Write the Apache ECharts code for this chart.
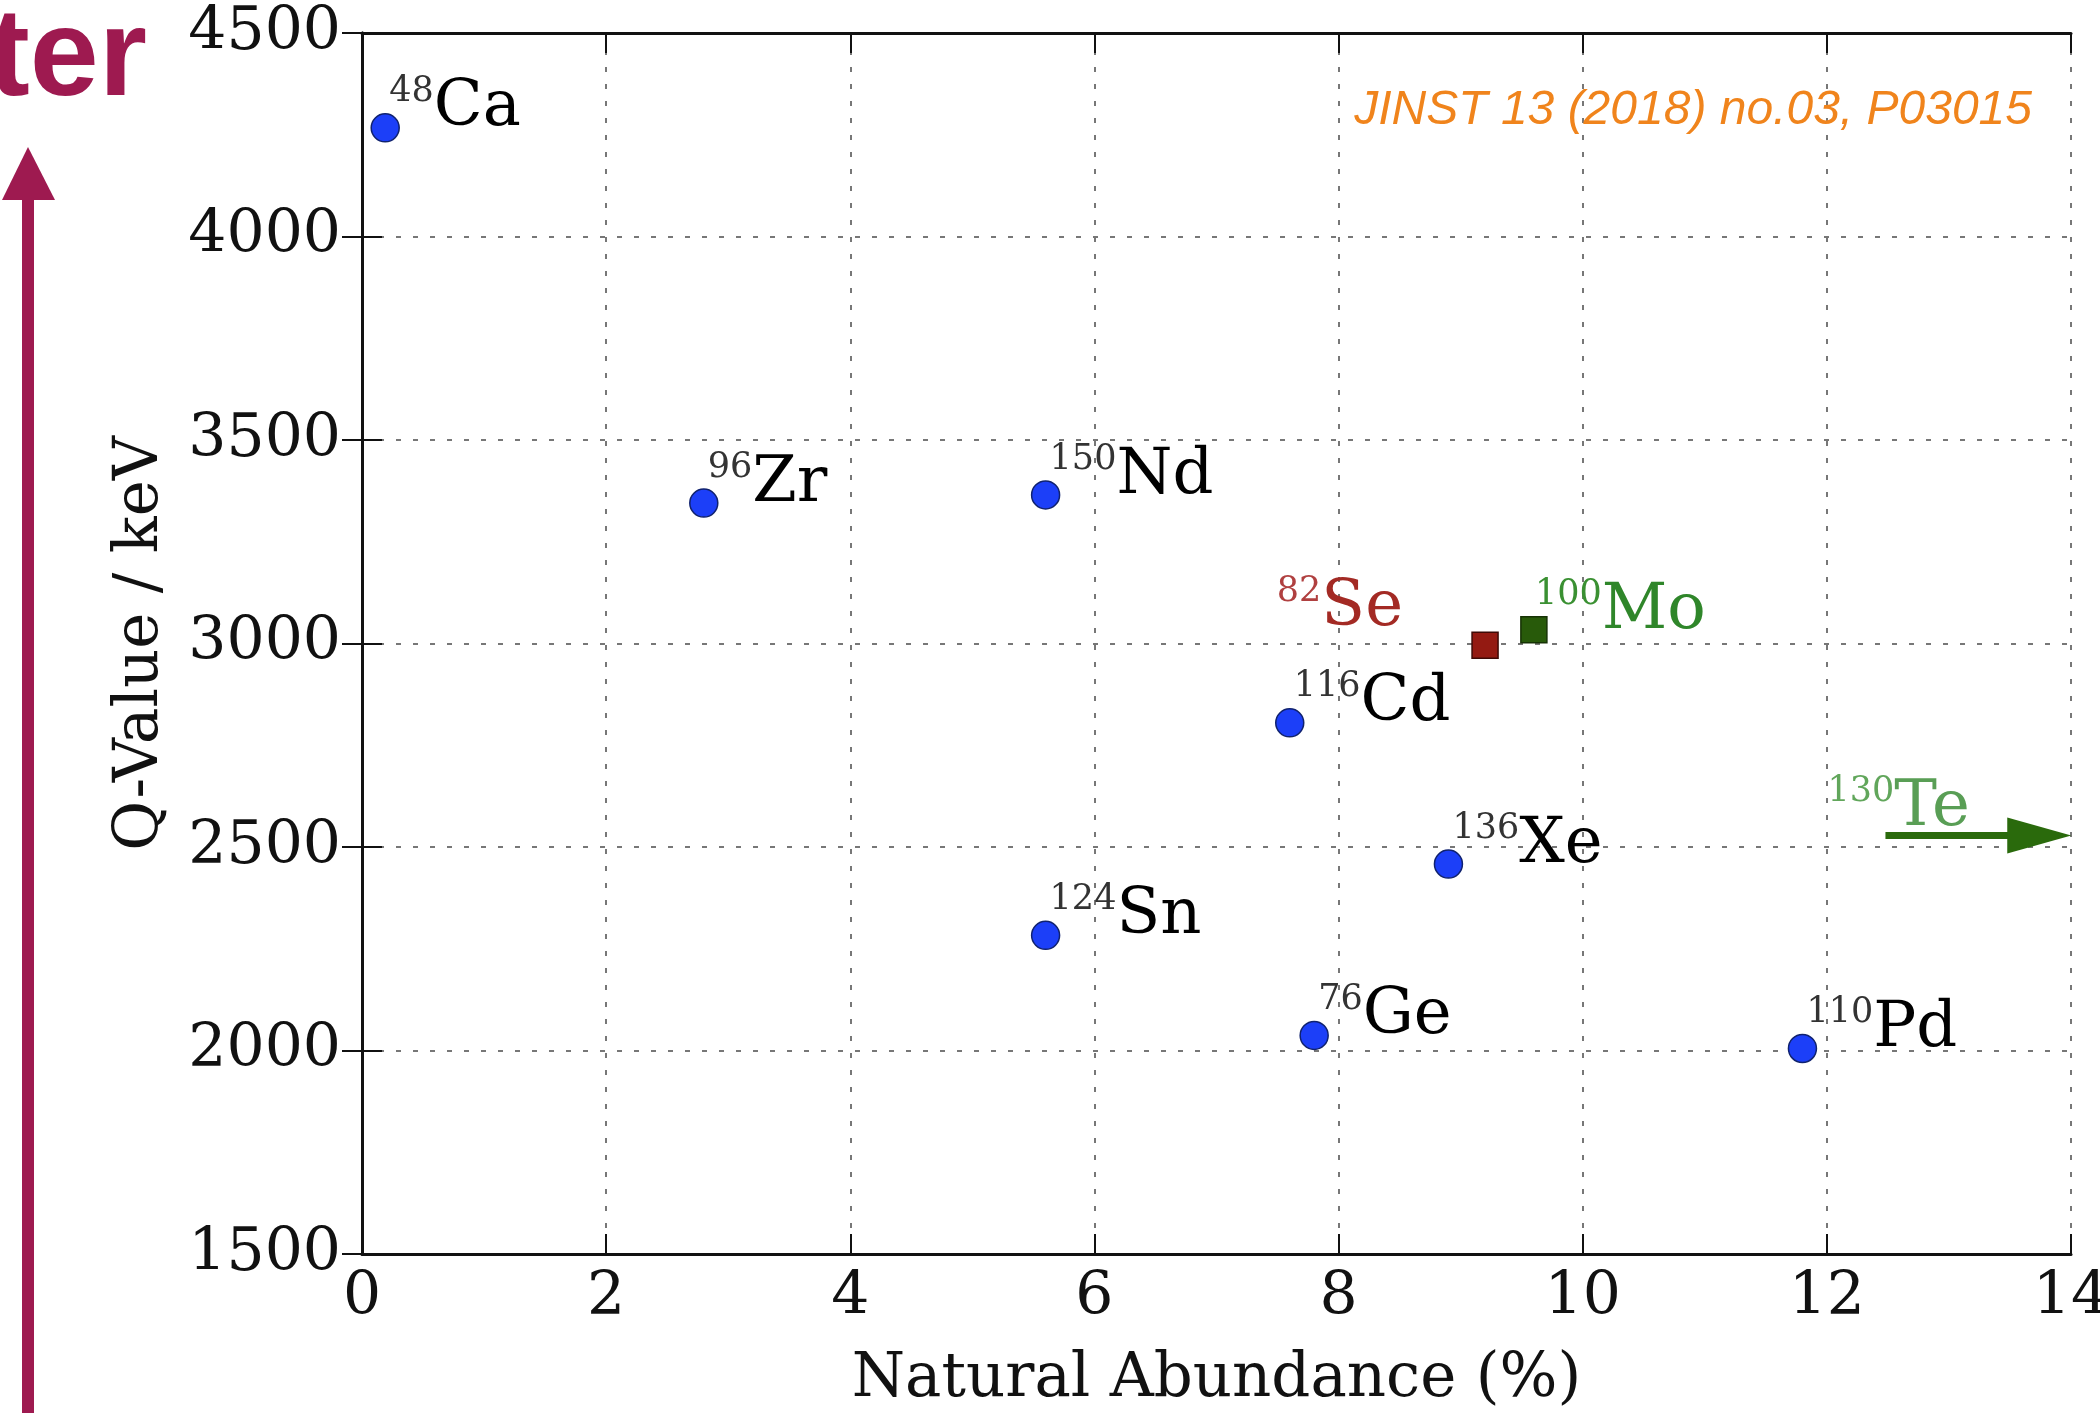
<!DOCTYPE html>
<html>
<head>
<meta charset="utf-8">
<script src="https://cdn.jsdelivr.net/npm/echarts@6/dist/echarts.min.js"></script>
<style>
  html, body { margin: 0; padding: 0; background: #fff; }
  #chart { width: 2100px; height: 1413px; }
</style>
</head>
<body>
<div id="chart"></div>
<script>
// isotopes shown as blue circles
const isoNames = ['Ca', 'Zr', 'Nd', 'Cd', 'Xe', 'Sn', 'Ge', 'Pd']
const isoMass = ['48', '96', '150', '116', '136', '124', '76', '110']
const isoAbundance = [0.19, 2.8, 5.6, 7.6, 8.9, 5.6, 7.8, 11.8]
const isoQValue = [4267, 3345, 3365, 2805, 2458, 2283, 2037, 2005]

// highlighted isotopes (squares)
const seAbundance = 9.2
const seQValue = 2996
const moAbundance = 9.6
const moQValue = 3034

// 130Te is off scale (34 %), drawn as an arrow
const teArrowX = [12.48, 13.74]
const teQValue = 2528

const xTicks = { min: 0, max: 14, interval: 2 }
const yTicks = { min: 1500, max: 4500, interval: 500 }

const serif = 'DejaVu Serif'
const chart = echarts.init(document.getElementById('chart'))

function richLabel(color, supColor) {
  return {
    sup: { fontFamily: serif, fontSize: 35, lineHeight: 36, color: supColor, verticalAlign: 'top' },
    el: { fontFamily: serif, fontSize: 64, lineHeight: 68, color: color }
  }
}

const frameAxis = {
  axisLine: { show: true, lineStyle: { color: '#111', width: 3 } },
  axisTick: { show: true, inside: true, length: 20, lineStyle: { color: '#111', width: 2 } },
  splitLine: { show: false },
  axisLabel: { show: false }
}

const option = {
  animation: false,
  grid: { left: 362, right: 29, top: 33, bottom: 159, outerBoundsMode: 'none', containLabel: false },
  xAxis: [
    {
      type: 'value',
      min: xTicks.min, max: xTicks.max, interval: xTicks.interval,
      name: 'Natural Abundance (%)',
      nameLocation: 'middle',
      nameGap: 96,
      nameTextStyle: { fontFamily: serif, fontSize: 61, color: '#111' },
      axisLine: { show: true, onZero: false, lineStyle: { color: '#111', width: 3 } },
      axisTick: { show: true, inside: true, length: 20, lineStyle: { color: '#111', width: 2 } },
      axisLabel: { fontFamily: serif, fontSize: 60, color: '#111', margin: 14, formatter: v => String(v) },
      splitLine: { show: true, lineStyle: { color: '#777', width: 2, type: [5, 12] } }
    },
    Object.assign({ type: 'value', position: 'top', min: xTicks.min, max: xTicks.max, interval: xTicks.interval }, frameAxis)
  ],
  yAxis: [
    {
      type: 'value',
      min: yTicks.min, max: yTicks.max, interval: yTicks.interval,
      name: 'Q-Value / keV',
      nameLocation: 'middle',
      nameGap: 190,
      nameRotate: 90,
      nameTextStyle: { fontFamily: serif, fontSize: 61, color: '#111' },
      axisLine: { show: true, onZero: false, lineStyle: { color: '#111', width: 3 } },
      axisTick: { show: true, inside: true, length: 20, lineStyle: { color: '#111', width: 2 } },
      axisLabel: { fontFamily: serif, fontSize: 60, color: '#111', margin: 21, padding: [0, 0, 12, 0], formatter: v => String(v) },
      splitLine: { show: true, lineStyle: { color: '#777', width: 2, type: [5, 12] } }
    },
    Object.assign({ type: 'value', position: 'right', min: yTicks.min, max: yTicks.max, interval: yTicks.interval }, frameAxis)
  ],
  graphic: [
    {
      type: 'text',
      right: 68, top: 87,
      style: {
        text: 'JINST 13 (2018) no.03, P03015',
        font: 'italic 48px "Liberation Sans"',
        fill: '#f0841c'
      },
      z: 10
    },
    {
      type: 'text',
      style: {
        text: 'ter', x: 147, y: 123, align: 'right', verticalAlign: 'bottom',
        font: 'bold 124px "Liberation Sans"', fill: '#9e1a50'
      }
    },
    {
      type: 'polygon',
      shape: { points: [[28, 147], [2, 200], [55, 200]] },
      style: { fill: '#9e1a50' }
    },
    {
      type: 'rect',
      shape: { x: 22, y: 198, width: 12, height: 1220 },
      style: { fill: '#9e1a50' }
    }
  ],
  series: [
    {
      name: 'isotopes',
      type: 'scatter',
      symbol: 'circle',
      symbolSize: 28,
      itemStyle: { color: '#1c3ff8', borderColor: '#10226e', borderWidth: 1.5, opacity: 1 },
      data: isoAbundance.map((a, i) => [a, isoQValue[i]]),
      label: {
        show: true,
        position: 'inside',
        align: 'left',
        verticalAlign: 'middle',
        offset: [4, -19],
        formatter: p => '{sup|' + isoMass[p.dataIndex] + '}{el|' + isoNames[p.dataIndex] + '}',
        rich: richLabel('#000', '#333')
      },
      z: 5
    },
    {
      name: 'Se',
      type: 'scatter',
      symbol: 'rect',
      symbolSize: 26,
      itemStyle: { color: '#941a12', borderColor: '#3e0a06', borderWidth: 1.5, opacity: 1 },
      data: [[seAbundance, seQValue]],
      label: {
        show: true,
        position: 'inside',
        align: 'right',
        verticalAlign: 'middle',
        offset: [-82, -37],
        formatter: '{sup|82}{el|Se}',
        rich: richLabel('#a32a24', '#b04040')
      },
      z: 5
    },
    {
      name: 'Mo',
      type: 'scatter',
      symbol: 'rect',
      symbolSize: 26,
      itemStyle: { color: '#285a0a', borderColor: '#163205', borderWidth: 1.5, opacity: 1 },
      data: [[moAbundance, moQValue]],
      label: {
        show: true,
        position: 'inside',
        align: 'left',
        verticalAlign: 'middle',
        offset: [1, -18],
        formatter: '{sup|100}{el|Mo}',
        rich: richLabel('#2f862a', '#3a9032')
      },
      z: 5
    },
    {
      name: 'Te',
      type: 'line',
      clip: false,
      lineStyle: { color: '#2a6a0c', width: 7 },
      itemStyle: { color: '#2a6a0c', opacity: 1 },
      data: [
        { value: [teArrowX[0], teQValue], symbol: 'none' },
        { value: [teArrowX[1], teQValue], symbol: 'triangle', symbolSize: [36, 64], symbolRotate: -90 }
      ],
      z: 4
    },
    {
      name: 'Te label',
      type: 'scatter',
      symbolSize: 1,
      itemStyle: { color: 'rgba(0,0,0,0)' },
      data: [[teArrowX[0], teQValue]],
      label: {
        show: true,
        position: 'inside',
        align: 'left',
        verticalAlign: 'middle',
        offset: [-58, -27],
        formatter: '{sup|130}{el|Te}',
        rich: richLabel('#2f862a', '#3a9032')
      },
      z: 5
    }
  ]
}

chart.setOption(option)
</script>
</body>
</html>
